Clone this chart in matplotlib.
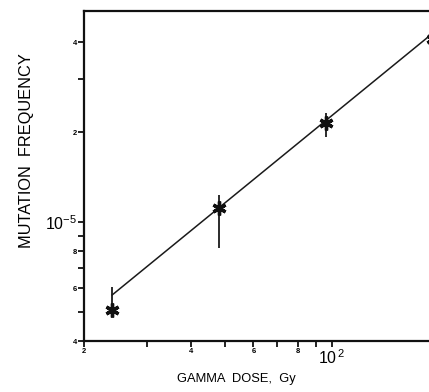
import matplotlib
matplotlib.use("Agg")
import matplotlib.pyplot as plt

# данные
dose = [24, 48, 96, 192]                      # Gy
freq = [5.08e-6, 1.11e-5, 2.14e-5, 4.1e-5]
err_lo = [0.0, 2.9e-6, 2.2e-6, 0.0]
err_hi = [1.0e-6, 1.2e-6, 1.7e-6, 0.0]

# линия регрессии (концы)
fit_dose = [24, 192]
fit_freq = [5.7e-6, 4.28e-5]

x_ticks = [20, 40, 60, 80, 100]
x_labels = ['2', '4', '6', '8', r'$10^{\,2}$']
x_minor = [30, 50, 70, 90]
y_ticks = [4e-6, 6e-6, 8e-6, 1e-5, 2e-5, 4e-5]
y_labels = ['4', '6', '8', r'$10^{-5}$', '2', '4']
y_minor = [5e-6, 7e-6, 9e-6, 3e-5]

plt.rcParams['font.family'] = ['Liberation Sans', 'DejaVu Sans']
plt.rcParams['mathtext.fontset'] = 'custom'
plt.rcParams['mathtext.rm'] = 'Liberation Sans'

fig = plt.figure(figsize=(4.29, 3.92), dpi=100)
ax = fig.add_axes([84 / 429, 51 / 392, 355 / 429, 330 / 392])
ax.set_xscale('log')
ax.set_yscale('log')
ax.set_xlim(20, 200)
ax.set_ylim(4e-6, 5.08e-5)

ax.plot(fit_dose, fit_freq, color='#1a1a1a', lw=1.1)
ax.errorbar(dose, freq, yerr=[err_lo, err_hi], fmt='none', ecolor='#1a1a1a',
            elinewidth=1.3, capsize=0)
ax.plot(dose, freq, ls='none', marker=(6, 2, 0), ms=10, mew=2.4,
        color='#111111', clip_on=False)

for s in ['left', 'top', 'bottom', 'right']:
    ax.spines[s].set_linewidth(1.6)
    ax.spines[s].set_color('#111111')

ax.set_xticks(x_ticks)
ax.set_xticklabels(x_labels)
ax.set_xticks(x_minor, minor=True)
ax.set_xticklabels([], minor=True)
ax.set_yticks(y_ticks)
ax.set_yticklabels(y_labels)
ax.set_yticks(y_minor, minor=True)
ax.set_yticklabels([], minor=True)

ax.tick_params(which='both', direction='out', length=4, width=1.3,
               color='#111111', top=False, right=False)
ax.tick_params(axis='x', pad=1)
ax.tick_params(axis='y', pad=1)

for lab in ax.get_xticklabels() + ax.get_yticklabels():
    if '10' in lab.get_text():
        lab.set_fontsize(11.5)
    else:
        lab.set_fontsize(5.5)
        lab.set_fontweight('bold')

fig.text(0.552, 0.017, 'GAMMA  DOSE,  Gy', fontsize=9.3, ha='center', va='bottom')
fig.text(0.062, 0.617, 'MUTATION  FREQUENCY', fontsize=11.8, rotation=90,
         ha='center', va='center')

fig.savefig('out.png', dpi=100)
